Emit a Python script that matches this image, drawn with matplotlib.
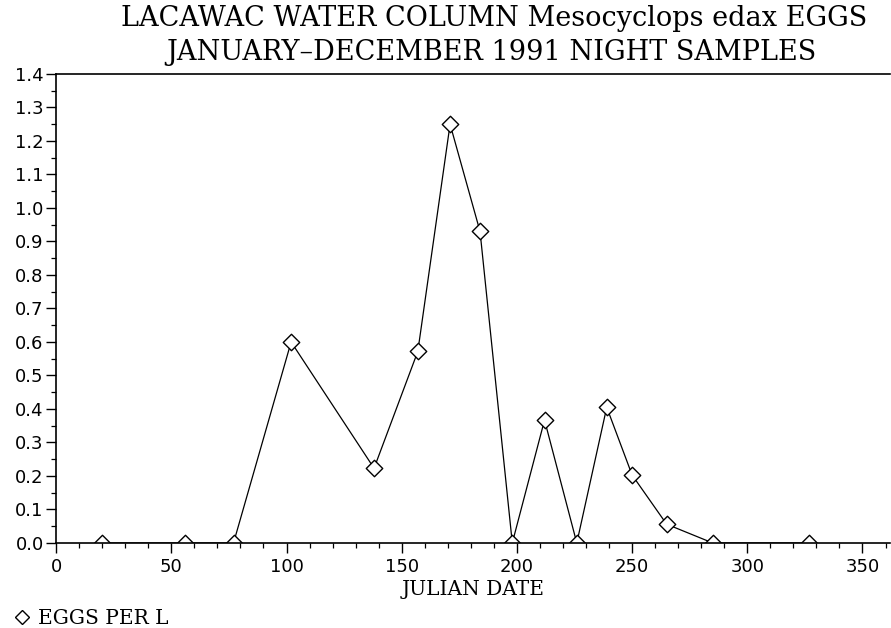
import matplotlib
matplotlib.use("Agg")
import matplotlib.pyplot as plt
from matplotlib.lines import Line2D
from matplotlib.patches import Rectangle
from matplotlib.ticker import MultipleLocator, FormatStrFormatter

# julian date of each night sample and eggs per litre
julian_day = [20, 56, 77, 102, 138, 157, 171, 184, 198, 212, 226, 239, 250, 265, 285, 327]
eggs_per_l = [0.0, 0.0, 0.0, 0.60, 0.223, 0.572, 1.25, 0.93, 0.0, 0.367, 0.0, 0.405, 0.203, 0.056, 0.0, 0.0]

title_1 = "LACAWAC WATER COLUMN Mesocyclops edax EGGS"
title_2 = "JANUARY\u2013DECEMBER 1991 NIGHT SAMPLES"

serif = "DejaVu Serif"

fig = plt.figure(figsize=(8.91, 6.28), dpi=100)
ax = fig.add_axes([0.063, 0.1354, 0.936, 0.7468])

ax.plot(julian_day, eggs_per_l, color="black", lw=0.9, zorder=2)
ax.scatter(julian_day, eggs_per_l, marker="D", s=70, facecolors="white",
           edgecolors="black", linewidths=1.0, zorder=3, clip_on=True)

# the markers on zero only show their top half in the original: mask below the axis
ax.add_patch(Rectangle((0, -0.04), 1, 0.04, transform=ax.transAxes, facecolor="white",
                       edgecolor="none", clip_on=False, zorder=3.5))

ax.set_xlim(0, 362)
ax.set_ylim(0, 1.4)

ax.xaxis.set_major_locator(MultipleLocator(50))
ax.xaxis.set_minor_locator(MultipleLocator(10))
ax.yaxis.set_major_locator(MultipleLocator(0.1))
ax.yaxis.set_minor_locator(MultipleLocator(0.05))
ax.yaxis.set_major_formatter(FormatStrFormatter("%.1f"))

ax.tick_params(axis="both", which="major", direction="out", length=7, width=1.0,
               labelsize=13, colors="black")
ax.tick_params(axis="both", which="minor", direction="out", length=3.5, width=0.9)
ax.tick_params(axis="x", pad=4)
ax.tick_params(axis="y", pad=2)
ax.xaxis.set_zorder(5)
ax.yaxis.set_zorder(5)

ax.spines["right"].set_visible(False)
for s in ["left", "bottom", "top"]:
    ax.spines[s].set_linewidth(1.2)
    ax.spines[s].set_zorder(5)

ax.set_xlabel("JULIAN DATE", family=serif, fontsize=14.5, labelpad=3)

# two title lines, set a bit right of the axes centre as in the original
fig.text(0.555, 1 - 19 / 628, title_1, family=serif, fontsize=19.5, ha="center", va="center")
fig.text(0.551, 1 - 52 / 628, title_2, family=serif, fontsize=19.5, ha="center", va="center")

handle = Line2D([], [], ls="none", marker="D", ms=7, mfc="white", mec="black", mew=1.0)
fig.legend([handle], ["EGGS PER L"], loc="lower left", bbox_to_anchor=(0.0, -0.02),
           frameon=False, handletextpad=0.3, handlelength=1.0, borderaxespad=0.2,
           prop={"family": serif, "size": 14.5})

fig.savefig("out.png", dpi=100)
